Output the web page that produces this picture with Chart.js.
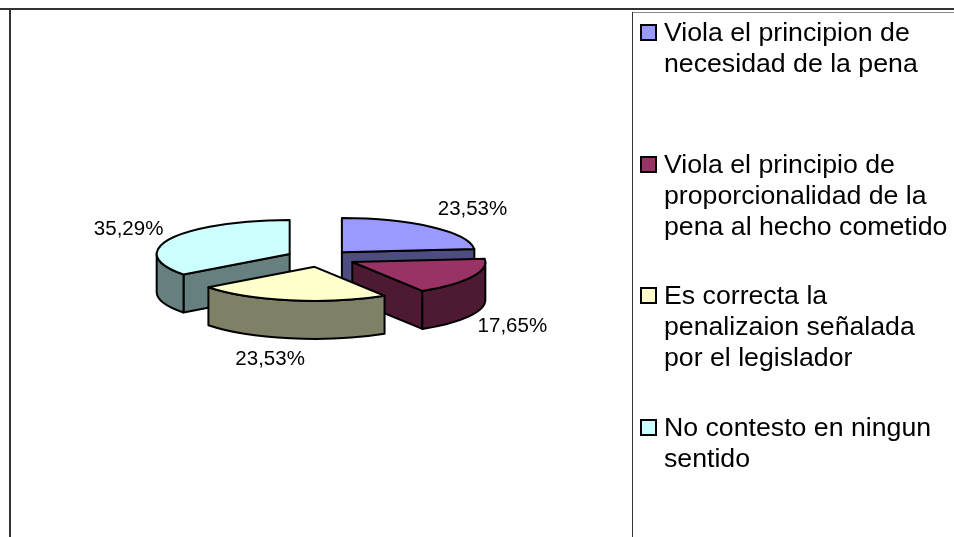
<!DOCTYPE html>
<html>
<head>
<meta charset="utf-8">
<script src="https://cdn.jsdelivr.net/npm/chart.js@4"></script>
<style>
  html, body { margin: 0; padding: 0; background: #fff; overflow: hidden; }
  #wrap { position: relative; width: 954px; height: 537px; font-family: "Liberation Sans", Arial, sans-serif; color: #000; }
  #wrap canvas { position: absolute; left: 0; top: 0; }
  .rule { position: absolute; }
  .legend-item { position: absolute; left: 640px; width: 314px; font-size: 26.7px; line-height: 31px; padding-left: 24px; box-sizing: border-box; white-space: pre-line; }
  .legend-item i { position: absolute; left: 0; top: 7px; width: 13px; height: 13px; border: 2px solid #000; }
</style>
</head>
<body>
<div id="wrap">
  <canvas id="chart" width="954" height="537"></canvas>
  <div class="rule" style="left:0;top:8px;width:954px;height:2px;background:#333"></div>
  <div class="rule" style="left:9px;top:8px;width:2px;height:529px;background:#333"></div>
  <div class="rule" style="left:632px;top:12px;width:322px;height:1px;background:#888"></div>
  <div class="rule" style="left:632px;top:12px;width:1px;height:525px;background:#333"></div>
  <div id="legend"></div>
</div>
<script>
const categories = [
  "Viola el principion de\nnecesidad de la pena",
  "Viola el principio de\nproporcionalidad de la\npena al hecho cometido",
  "Es correcta la\npenalizaion señalada\npor el legislador",
  "No contesto en ningun\nsentido"
];
const values = [23.53, 17.65, 23.53, 35.29];
const topColors = ["#9999ff", "#993366", "#ffffcc", "#ccffff"];
const wallColors = ["#4d4d80", "#4d1933", "#808066", "#668080"];
const explode = [31, 35, 35, 35];

const squash = 0.256;
const depth = 38;
const paintOrder = [0, 3, 1, 2];
// label centre relative to the slice's outer mid point
const labelNudge = [[41, -18], [41, 49], [-20, 59], [-42, -9]];

function percentText(v) {
  return v.toFixed(2).replace(".", ",") + "%";
}

const pie3d = {
  id: "pie3d",
  beforeDatasetsDraw(chart) {
    const ctx = chart.ctx;
    const arcs = chart.getDatasetMeta(0).data;
    paintOrder.forEach(i => drawSlice(ctx, arcs[i], i));
    ctx.fillStyle = "#000";
    ctx.font = '20.5px "Liberation Sans", Arial, sans-serif';
    ctx.textAlign = "center";
    ctx.textBaseline = "middle";
    arcs.forEach((arc, i) => {
      const c = sliceCentre(arc);
      const mid = (arc.startAngle + arc.endAngle) / 2;
      const r = arc.outerRadius;
      ctx.fillText(percentText(values[i]),
        c.x + Math.cos(mid) * r + labelNudge[i][0],
        c.y + Math.sin(mid) * r * squash + labelNudge[i][1]);
    });
    return false;
  }
};

function sliceCentre(arc) {
  const mid = (arc.startAngle + arc.endAngle) / 2;
  return {
    x: arc.x + Math.cos(mid) * arc.options.offset,
    y: arc.y + Math.sin(mid) * arc.options.offset * squash
  };
}

function drawSlice(ctx, arc, i) {
  const c = sliceCentre(arc);
  const r = arc.outerRadius;
  const a = arc.startAngle, b = arc.endAngle;
  ctx.save();
  ctx.lineWidth = 2;
  ctx.lineJoin = "round";
  ctx.strokeStyle = "#000";

  const face = (ang) => {
    const ex = c.x + Math.cos(ang) * r, ey = c.y + Math.sin(ang) * r * squash;
    ctx.beginPath();
    ctx.moveTo(c.x, c.y);
    ctx.lineTo(ex, ey);
    ctx.lineTo(ex, ey + depth);
    ctx.lineTo(c.x, c.y + depth);
    ctx.closePath();
    ctx.fillStyle = wallColors[i];
    ctx.fill();
    ctx.stroke();
  };
  if (-Math.cos(a) > 0.001) face(a);
  if (Math.cos(b) > 0.001) face(b);

  // rim, only the part that looks towards the viewer
  const from = Math.max(a, 0), to = Math.min(b, Math.PI);
  if (to > from) {
    ctx.beginPath();
    ctx.ellipse(c.x, c.y, r, r * squash, 0, from, to);
    ctx.ellipse(c.x, c.y + depth, r, r * squash, 0, to, from, true);
    ctx.closePath();
    ctx.fillStyle = wallColors[i];
    ctx.fill();
    ctx.stroke();
  }

  ctx.beginPath();
  ctx.moveTo(c.x, c.y);
  ctx.ellipse(c.x, c.y, r, r * squash, 0, a, b);
  ctx.closePath();
  ctx.fillStyle = topColors[i];
  ctx.fill();
  ctx.stroke();
  ctx.restore();
}

new Chart(document.getElementById("chart"), {
  type: "pie",
  data: {
    labels: categories,
    datasets: [{
      data: values,
      backgroundColor: topColors,
      borderColor: "#000",
      borderWidth: 2,
      offset: explode,
      radius: 133
    }]
  },
  options: {
    responsive: false,
    animation: false,
    rotation: 0,
    layout: { padding: { left: 10, right: 322, top: 0, bottom: 21 } },
    plugins: { legend: { display: false }, tooltip: { enabled: false } }
  },
  plugins: [pie3d]
});

const legendTops = [17, 149, 280, 412];
const legend = document.getElementById("legend");
categories.forEach((name, i) => {
  const item = document.createElement("div");
  item.className = "legend-item";
  item.style.top = legendTops[i] + "px";
  item.textContent = name;
  const box = document.createElement("i");
  box.style.background = topColors[i];
  item.appendChild(box);
  legend.appendChild(item);
});
</script>
</body>
</html>
